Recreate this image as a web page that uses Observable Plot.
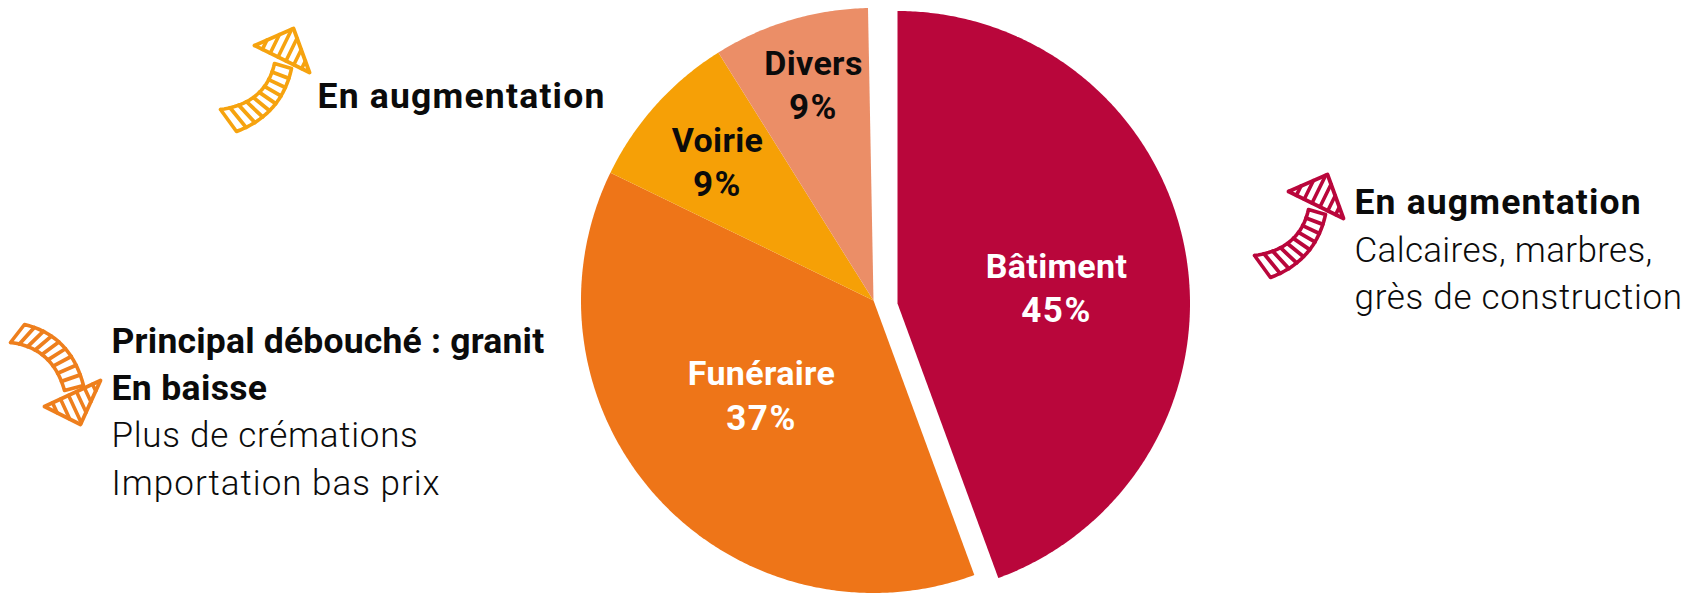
<!DOCTYPE html>
<html lang="fr">
<head>
<meta charset="utf-8">
<style>html,body{margin:0;padding:0;background:#fff}svg{display:block}</style>
<script src="https://cdn.jsdelivr.net/npm/d3@7"></script>
<script src="https://cdn.jsdelivr.net/npm/@observablehq/plot@0.6"></script>
</head>
<body>
<script>
// --- Data ---
const categories = ["Bâtiment", "Funéraire", "Voirie", "Divers"];
// wedge sizes as drawn, in percent of the full circle
const shares = [44.4, 37.8, 8.9, 8.6];
const percentLabels = ["45%", "37%", "9%", "9%"];
const sliceColors = ["#B9063B", "#EE7518", "#F6A006", "#EB8E67"];
const labelColors = ["#ffffff", "#ffffff", "#0b0b0b", "#0b0b0b"];

const noteBold = ["En augmentation", "Principal débouché : granit", "En baisse", "En augmentation"];
const noteLight = ["Plus de crémations", "Importation bas prix", "Calcaires, marbres,", "grès de construction"];

// --- Layout (pixels, the x and y scales are 1:1 with the frame) ---
const W = 1686, H = 593, R = 292.5;
const centers = [[897, 303], [873, 300], [873, 300], [873, 300]];
const labelAt = [[1056, 277, 321], [761, 384, 429], [717, 151, 195], [813, 74, 118]];
const boldAt = [[317, 107], [111, 352], [111, 399], [1354, 213]];
const lightAt = [[111, 446], [111, 494], [1354, 261], [1354, 308]];
const boldSpacing = [1.2, 0.2, 0.35, 1.15];
const lightSpacing = [0.72, 1.0, 0.34, 0.7];

// Pie wedges as filled outlines derived from the shares
let acc = 0;
const wedges = categories.flatMap((name, i) => {
  const a0 = acc * 3.6, a1 = (acc + shares[i]) * 3.6;
  acc += shares[i];
  const [cx, cy] = centers[i];
  const pts = [{name, x: cx, y: cy}];
  const n = Math.ceil((a1 - a0) / 0.5);
  for (let k = 0; k <= n; k++) {
    const a = (a0 + (a1 - a0) * k / n) * Math.PI / 180;
    pts.push({name, x: cx + R * Math.sin(a), y: cy - R * Math.cos(a)});
  }
  pts.push({name, x: cx, y: cy});
  return pts;
});

// Hand-drawn hatched arrow icons
const bez = (p, q, r, t) => [0, 1].map(j => (1 - t) ** 2 * p[j] + 2 * t * (1 - t) * q[j] + t * t * r[j]);
function arrowMarks(s, color) {
  const A = Array.from({length: 25}, (_, i) => bez(s.tailA, s.ctrlA, s.neckA, i / 24));
  const B = Array.from({length: 25}, (_, i) => bez(s.tailB, s.ctrlB, s.neckB, i / 24));
  const outline = [...A, ...B.slice().reverse(), A[0]];
  const head = [s.barbA, s.tip, s.barbB, s.barbA];
  const rungs = d3.range(1, s.rungs).map(i => {
    const t = i / s.rungs;
    const a = bez(s.tailA, s.ctrlA, s.neckA, t), b = bez(s.tailB, s.ctrlB, s.neckB, t);
    return {x1: a[0], y1: a[1], x2: b[0], y2: b[1]};
  });
  const bx = s.barbB[0] - s.barbA[0], by = s.barbB[1] - s.barbA[1];
  const proj = ((s.tip[0] - s.barbA[0]) * bx + (s.tip[1] - s.barbA[1]) * by) / (bx * bx + by * by);
  const hatch = d3.range(1, s.hatches).map(i => {
    const t = i / s.hatches;
    const from = [s.barbA[0] + bx * t, s.barbA[1] + by * t];
    const [base, u] = t < proj ? [s.barbA, t / proj] : [s.barbB, (1 - t) / (1 - proj)];
    const to = [base[0] + (s.tip[0] - base[0]) * u, base[1] + (s.tip[1] - base[1]) * u];
    return {x1: from[0], y1: from[1], x2: to[0], y2: to[1]};
  });
  const common = {x: d => d[0], y: d => d[1], stroke: color, strokeLinejoin: "round", strokeLinecap: "round"};
  const linkOpts = {x1: "x1", y1: "y1", x2: "x2", y2: "y2", stroke: color, strokeLinecap: "round"};
  return [
    Plot.line(outline, {...common, strokeWidth: 3.6}),
    Plot.link(rungs, {...linkOpts, strokeWidth: 3.8}),
    Plot.line(head, {...common, strokeWidth: 3.8}),
    Plot.link(hatch, {...linkOpts, strokeWidth: 3.6})
  ];
}
const shift = (s, dx, dy) => Object.fromEntries(Object.entries(s).map(([k, v]) =>
  [k, Array.isArray(v) ? [v[0] + dx, v[1] + dy] : v]));
const upArrow = {
  tip: [293, 28], barbA: [254, 45], barbB: [309, 72],
  tailA: [220, 109], ctrlA: [265, 103], neckA: [274, 63],
  tailB: [236, 131], ctrlB: [281, 114], neckB: [291, 68],
  rungs: 9, hatches: 7
};
const downArrow = {
  tip: [80, 424], barbA: [44, 406], barbB: [100, 380],
  tailA: [10, 342], ctrlA: [52, 347], neckA: [64, 390],
  tailB: [24, 324], ctrlB: [70, 335], neckB: [83, 385],
  rungs: 9, hatches: 7
};

// letter-spacing is inherited from the mark's group
const spaced = (px) => ({
  render(index, scales, values, dimensions, context, next) {
    const g = next(index, scales, values, dimensions, context);
    g.setAttribute("letter-spacing", px);
    return g;
  }
});
const noteMarks = (texts, at, spacing, fontWeight, fontSize) => texts.map((text, i) =>
  Plot.text([text], {
    x: () => at[i][0], y: () => at[i][1], text: d => d,
    textAnchor: "start", lineAnchor: "bottom",
    fontFamily: "Roboto, sans-serif", fontSize, fontWeight, fill: "#0b0b0b",
    ...spaced(spacing[i])
  }));
const labelMark = (rows, fontSize, letterSpacing) => Plot.text(rows, {
  x: "x", y: "y", text: "text", lineAnchor: "bottom", textAnchor: "middle",
  fontFamily: "Roboto, sans-serif", fontWeight: 700, fontSize,
  fill: {value: "fill", scale: null},
  ...spaced(letterSpacing)
});
const nameRows = categories.map((text, i) => ({text, x: labelAt[i][0], y: labelAt[i][1], fill: labelColors[i]}));
const percentRows = percentLabels.map((text, i) => ({text, x: labelAt[i][0], y: labelAt[i][2], fill: labelColors[i]}));

const chart = Plot.plot({
  width: W, height: H, margin: 0,
  x: {domain: [0, W], range: [0, W], axis: null},
  y: {domain: [0, H], range: [0, H], axis: null},
  color: {domain: categories, range: sliceColors},
  marks: [
    Plot.line(wedges, {x: "x", y: "y", z: "name", fill: "name", stroke: null}),
    ...arrowMarks(upArrow, "#F6A30F"),
    ...arrowMarks(shift(upArrow, 1034, 146), "#B9063B"),
    ...arrowMarks(downArrow, "#EE7F1D"),
    ...noteMarks(noteBold, boldAt, boldSpacing, 700, 35.5),
    ...noteMarks(noteLight, lightAt, lightSpacing, 300, 35),
    labelMark(nameRows, 34, 0.35),
    labelMark(percentRows, 35, 1.5)
  ]
});
document.body.appendChild(chart);
</script>
</body>
</html>
